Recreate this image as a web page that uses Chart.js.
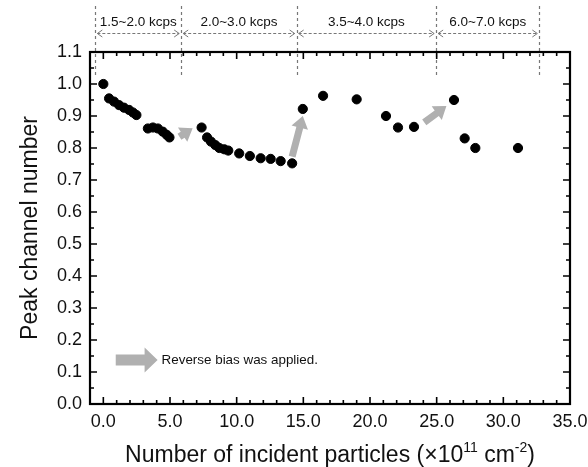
<!DOCTYPE html>
<html>
<head>
<meta charset="utf-8">
<script src="https://cdn.jsdelivr.net/npm/chart.js@4.4.1/dist/chart.umd.min.js"></script>
<style>
    body { margin: 0; background: #fff; }
    #wrap { width: 588px; height: 467px; }
</style>
</head>
<body>
<div id="wrap"><canvas id="chart" width="588" height="467"></canvas></div>
<script>
// measured points
const particles = [0.0, 0.43, 0.8, 1.18, 1.55, 1.93, 2.22, 2.48, 3.34, 3.72, 4.09, 4.46, 4.76, 4.96,
    7.37, 7.78, 8.07, 8.4, 8.7, 9.07, 9.37, 10.19, 10.99, 11.8, 12.55, 13.3, 14.16,
    14.96, 16.48, 19.0, 21.2, 22.1, 23.3, 26.3, 27.1, 27.9, 31.1];
const peakChannel = [1.0, 0.955, 0.945, 0.934, 0.926, 0.919, 0.911, 0.903, 0.861, 0.864, 0.861, 0.851, 0.841, 0.833,
    0.864, 0.833, 0.82, 0.809, 0.80, 0.796, 0.792, 0.783, 0.775, 0.768, 0.766, 0.759, 0.752,
    0.922, 0.963, 0.952, 0.90, 0.864, 0.866, 0.95, 0.83, 0.80, 0.80];

const xTicks = [0, 5, 10, 15, 20, 25, 30, 35];
const yTicks = [0, 0.1, 0.2, 0.3, 0.4, 0.5, 0.6, 0.7, 0.8, 0.9, 1.0, 1.1];

// count-rate regions along the top
const regionEdges = [-0.6, 5.84, 14.5, 24.96, 32.7];
const regionLabels = ['1.5~2.0 kcps', '2.0~3.0 kcps', '3.5~4.0 kcps', '6.0~7.0 kcps'];

// "reverse bias applied" arrows (data units)
const arrowFromX = [5.71, 14.16, 24.07];
const arrowFromY = [0.835, 0.773, 0.880];
const arrowToX = [6.70, 14.96, 25.73];
const arrowToY = [0.862, 0.900, 0.931];
const legendArrowX = [0.93, 4.07];
const legendArrowY = 0.1375;
const legendText = 'Reverse bias was applied.';

const FONT = '"Liberation Sans", Arial, sans-serif';
const ARROW_GRAY = '#b0b0b0';

function blockArrow(ctx, x1, y1, x2, y2, shaft, headW, headL) {
    let dx = x2 - x1, dy = y2 - y1;
    let len = Math.sqrt(dx * dx + dy * dy);
    ctx.save();
    ctx.translate(x1, y1);
    ctx.rotate(Math.atan2(dy, dx));
    ctx.fillStyle = ARROW_GRAY;
    ctx.beginPath();
    ctx.moveTo(0, -shaft / 2);
    ctx.lineTo(len - headL, -shaft / 2);
    ctx.lineTo(len - headL, -headW / 2);
    ctx.lineTo(len, 0);
    ctx.lineTo(len - headL, headW / 2);
    ctx.lineTo(len - headL, shaft / 2);
    ctx.lineTo(0, shaft / 2);
    ctx.closePath();
    ctx.fill();
    ctx.restore();
}

const arrowsPlugin = {
    id: 'arrows',
    beforeDatasetsDraw(chart) {
        const ctx = chart.ctx;
        const xs = chart.scales.x, ys = chart.scales.y;
        for (let i = 0; i < arrowFromX.length; i++) {
            blockArrow(ctx, xs.getPixelForValue(arrowFromX[i]), ys.getPixelForValue(arrowFromY[i]),
                xs.getPixelForValue(arrowToX[i]), ys.getPixelForValue(arrowToY[i]), 7, 17, 12);
        }
        let ly = ys.getPixelForValue(legendArrowY);
        blockArrow(ctx, xs.getPixelForValue(legendArrowX[0]), ly, xs.getPixelForValue(legendArrowX[1]), ly, 11, 25, 13);
        ctx.save();
        ctx.fillStyle = '#111';
        ctx.font = '13.4px ' + FONT;
        ctx.textBaseline = 'middle';
        ctx.textAlign = 'left';
        ctx.fillText(legendText, xs.getPixelForValue(legendArrowX[1]) + 4, ly);
        ctx.restore();
    }
};

const framePlugin = {
    id: 'frame',
    afterDraw(chart) {
        const ctx = chart.ctx;
        const a = chart.chartArea;
        const xs = chart.scales.x, ys = chart.scales.y;
        ctx.save();

        // regions on top
        ctx.strokeStyle = '#777';
        ctx.lineWidth = 1.2;
        ctx.setLineDash([3, 3]);
        regionEdges.forEach(v => {
            let px = Math.round(xs.getPixelForValue(v)) + 0.5;
            ctx.beginPath();
            ctx.moveTo(px, 6);
            ctx.lineTo(px, 78);
            ctx.stroke();
        });
        ctx.lineWidth = 1;
        ctx.setLineDash([3, 2]);
        ctx.fillStyle = '#111';
        ctx.font = '13.5px ' + FONT;
        ctx.textAlign = 'center';
        ctx.textBaseline = 'middle';
        for (let i = 0; i < regionLabels.length; i++) {
            let p1 = xs.getPixelForValue(regionEdges[i]) + 2;
            let p2 = xs.getPixelForValue(regionEdges[i + 1]) - 2;
            let yy = 33.5;
            ctx.strokeStyle = '#777';
            ctx.setLineDash([3, 2]);
            ctx.beginPath();
            ctx.moveTo(p1, yy);
            ctx.lineTo(p2, yy);
            ctx.stroke();
            ctx.setLineDash([]);
            ctx.beginPath();
            ctx.moveTo(p1 + 5, yy - 3.5); ctx.lineTo(p1, yy); ctx.lineTo(p1 + 5, yy + 3.5);
            ctx.moveTo(p2 - 5, yy - 3.5); ctx.lineTo(p2, yy); ctx.lineTo(p2 - 5, yy + 3.5);
            ctx.stroke();
            ctx.fillText(regionLabels[i], (p1 + p2) / 2, 22);
        }
        ctx.setLineDash([]);

        // ticks, inward on all four sides
        ctx.strokeStyle = '#000';
        ctx.lineWidth = 1.6;
        ctx.beginPath();
        for (let v = -1; v <= 35; v += 1) {
            let px = xs.getPixelForValue(v);
            let len = (v % 5 === 0) ? 7 : 4;
            ctx.moveTo(px, a.bottom); ctx.lineTo(px, a.bottom - len);
            ctx.moveTo(px, a.top); ctx.lineTo(px, a.top + len);
        }
        for (let k = 0; k <= 22; k++) {
            let py = ys.getPixelForValue(k * 0.05);
            let len = (k % 2 === 0) ? 7 : 4;
            ctx.moveTo(a.left, py); ctx.lineTo(a.left + len, py);
            ctx.moveTo(a.right, py); ctx.lineTo(a.right - len, py);
        }
        ctx.stroke();

        ctx.lineWidth = 2.2;
        ctx.strokeRect(a.left, a.top, a.right - a.left, a.bottom - a.top);

        // tick labels
        ctx.fillStyle = '#111';
        ctx.font = '18px ' + FONT;
        ctx.textAlign = 'center';
        ctx.textBaseline = 'middle';
        xTicks.forEach(v => ctx.fillText(v.toFixed(1), xs.getPixelForValue(v), a.bottom + 18));
        ctx.textAlign = 'right';
        yTicks.forEach(v => ctx.fillText(v.toFixed(1), a.left - 8, ys.getPixelForValue(v)));

        // y title
        ctx.save();
        ctx.translate(37, (a.top + a.bottom) / 2 + 0);
        ctx.rotate(-Math.PI / 2);
        ctx.textAlign = 'center';
        ctx.textBaseline = 'alphabetic';
        ctx.font = '23px ' + FONT;
        ctx.fillText('Peak channel number', 0, 0);
        ctx.restore();

        // x title with superscripts
        const parts = [
            ['Number of incident particles (\u00d710', 23, 0],
            ['11', 14, -10],
            [' cm', 23, 0],
            ['-2', 14, -10],
            [')', 23, 0]
        ];
        let total = 0;
        parts.forEach(p => { ctx.font = p[1] + 'px ' + FONT; total += ctx.measureText(p[0]).width; });
        let tx = (a.left + a.right) / 2 - total / 2;
        ctx.textAlign = 'left';
        ctx.textBaseline = 'alphabetic';
        parts.forEach(p => {
            ctx.font = p[1] + 'px ' + FONT;
            ctx.fillText(p[0], tx, 462 + p[2]);
            tx += ctx.measureText(p[0]).width;
        });
        ctx.restore();
    }
};

new Chart(document.getElementById('chart'), {
    type: 'scatter',
    data: {
        datasets: [{
            label: 'Peak channel number',
            data: particles.map((x, i) => ({ x: x, y: peakChannel[i] })),
            backgroundColor: '#000',
            borderColor: '#000',
            pointRadius: 4.6,
            pointHoverRadius: 4.6
        }]
    },
    options: {
        responsive: false,
        animation: false,
        layout: { padding: { left: 90, right: 18, top: 52, bottom: 63 } },
        plugins: { legend: { display: false }, tooltip: { enabled: false } },
        scales: {
            x: { type: 'linear', min: -1, max: 35, display: false },
            y: { min: 0, max: 1.1, display: false }
        }
    },
    plugins: [arrowsPlugin, framePlugin]
});
</script>
</body>
</html>
